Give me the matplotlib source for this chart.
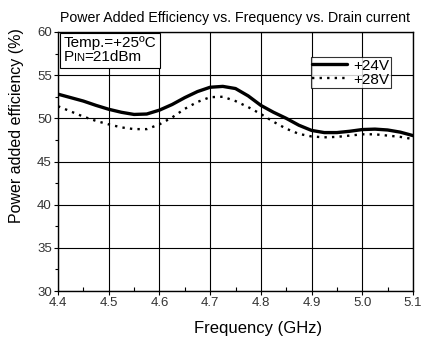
import numpy as np
import matplotlib
matplotlib.use('Agg')
import matplotlib.pyplot as plt
from matplotlib.ticker import MultipleLocator, FormatStrFormatter
from matplotlib.offsetbox import TextArea, HPacker, VPacker, AnchoredOffsetbox

plt.rcParams['font.family'] = ['Liberation Sans', 'DejaVu Sans']

# Frequency (GHz)
freq = [4.400, 4.425, 4.450, 4.475, 4.500, 4.525, 4.550, 4.575, 4.600, 4.625,
        4.650, 4.675, 4.700, 4.725, 4.750, 4.775, 4.800, 4.825, 4.850, 4.875,
        4.900, 4.925, 4.950, 4.975, 5.000, 5.025, 5.050, 5.075, 5.100]

# PAE at +24V
pae_24v = [52.8, 52.4, 52.0, 51.5, 51.05, 50.7, 50.45, 50.5, 50.95, 51.6,
           52.4, 53.1, 53.6, 53.7, 53.45, 52.6, 51.5, 50.7, 50.0, 49.2,
           48.6, 48.35, 48.35, 48.5, 48.7, 48.75, 48.65, 48.4, 48.0]

# PAE at +28V
pae_28v = [51.4, 50.8, 50.2, 49.7, 49.3, 48.95, 48.75, 48.75, 49.3, 50.1,
           51.1, 51.9, 52.45, 52.5, 52.0, 51.3, 50.5, 49.6, 48.8, 48.2,
           47.9, 47.8, 47.85, 48.0, 48.15, 48.15, 48.0, 47.85, 47.6]

fig = plt.figure(figsize=(4.22, 3.42), dpi=100)
ax = fig.add_axes([58/422, 1 - 291/342, 355/422, 259/342])

ax.plot(freq, pae_24v, color='black', lw=2.4, label='+24V', solid_capstyle='round')
ax.plot(freq, pae_28v, color='black', lw=1.7, linestyle=(0, (1, 2.2)), label='+28V')

ax.set_xlim(4.4, 5.1)
ax.set_ylim(30, 60)
ax.xaxis.set_major_locator(MultipleLocator(0.1))
ax.xaxis.set_minor_locator(MultipleLocator(0.05))
ax.yaxis.set_major_locator(MultipleLocator(5))
ax.yaxis.set_minor_locator(MultipleLocator(2.5))
ax.xaxis.set_major_formatter(FormatStrFormatter('%.1f'))
ax.grid(True, which='major', color='black', lw=0.8)
ax.tick_params(which='major', direction='out', length=3, width=0.8, labelsize=9.5,
               labelcolor='#333333', pad=1.5)
ax.tick_params(axis='x', which='minor', direction='in', length=3, width=0.8)
ax.tick_params(axis='y', which='minor', direction='out', length=2, width=0.8)
for s in ax.spines.values():
    s.set_linewidth(1.0)

ax.set_title('Power Added Efficiency vs. Frequency vs. Drain current', fontsize=10.2, pad=7)
ax.set_xlabel('Frequency (GHz)', fontsize=12)
ax.xaxis.set_label_coords(0.563, -0.143)
ax.xaxis.label.set_va('center')
ax.set_ylabel('Power added efficiency (%)', fontsize=11.5)
ax.yaxis.set_label_coords(-0.118, 0.64)
ax.yaxis.label.set_va('center')

leg = ax.legend(loc='upper right', bbox_to_anchor=(391/355 - 58/355, 1 - 25/259),
                frameon=True, fancybox=False, fontsize=11, handlelength=2.3,
                handletextpad=0.4, borderpad=0.1, labelspacing=0.0, borderaxespad=0)
leg.get_frame().set_edgecolor('black')
leg.get_frame().set_linewidth(0.8)

# condition box with small-caps style "IN"
line1 = TextArea('Temp.=+25\u00baC', textprops=dict(fontsize=11))
line2 = HPacker(children=[TextArea('P', textprops=dict(fontsize=11)),
                          TextArea('IN', textprops=dict(fontsize=8)),
                          TextArea('=21dBm', textprops=dict(fontsize=11))],
                align='baseline', pad=0, sep=0)
cond = VPacker(children=[line1, line2], align='left', pad=0, sep=0)
box = AnchoredOffsetbox(loc='upper left', child=cond, pad=0.25, borderpad=0,
                        frameon=True, bbox_to_anchor=(2/355, 1 - 1/259),
                        bbox_transform=ax.transAxes)
box.patch.set_edgecolor('black')
box.patch.set_linewidth(0.8)
ax.add_artist(box)

fig.savefig('out.png', dpi=100)
